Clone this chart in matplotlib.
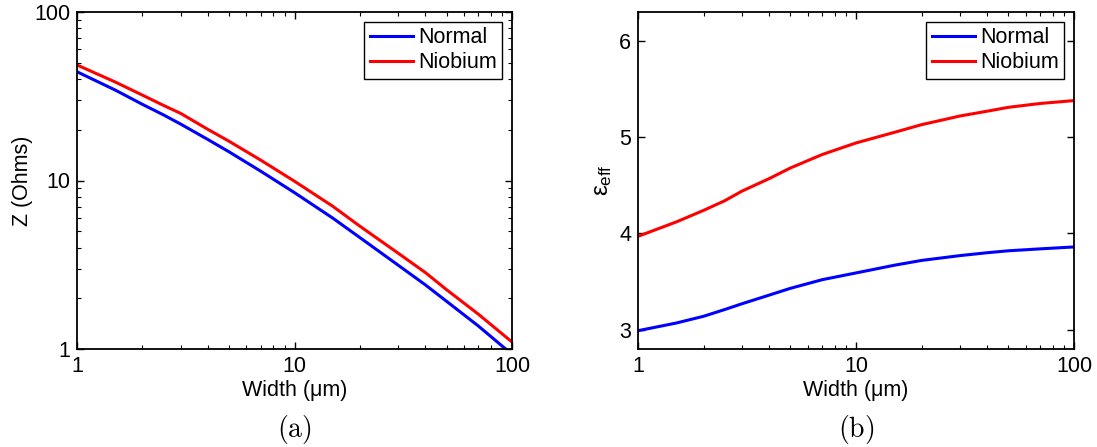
import numpy as np
import matplotlib.pyplot as plt

plt.rcParams['font.family'] = ['Liberation Sans', 'DejaVu Sans']
plt.rcParams['mathtext.fontset'] = 'custom'
plt.rcParams['mathtext.rm'] = 'Liberation Sans'
plt.rcParams['mathtext.it'] = 'Liberation Sans'

# DATA
width = [1, 1.5, 2, 2.5, 3, 4, 5, 7, 10, 15, 20, 30, 40, 50, 70, 100]

z_normal = [44.2, 34.4, 28.3, 24.5, 21.6, 17.5, 14.8, 11.35, 8.47,
            5.98, 4.58, 3.14, 2.40, 1.92, 1.37, 0.93]
z_niobium = [48.5, 38.4, 32.1, 27.9, 25.0, 20.1, 17.1, 13.2, 9.9,
             7.03, 5.35, 3.70, 2.84, 2.25, 1.61, 1.10]

eps_normal = [2.99, 3.07, 3.14, 3.21, 3.27, 3.36, 3.43, 3.52, 3.59,
              3.67, 3.72, 3.77, 3.80, 3.82, 3.84, 3.86]
eps_niobium = [3.97, 4.12, 4.24, 4.34, 4.44, 4.57, 4.68, 4.82, 4.94,
               5.05, 5.13, 5.22, 5.27, 5.31, 5.35, 5.38]

series_names = ['Normal', 'Niobium']
series_colors = ['#0000ff', '#ff0000']
panel_tags = ['(a)', '(b)']

FS = 15.5

fig = plt.figure(figsize=(10.97, 4.47), dpi=100)
ax1 = fig.add_axes([77/1097, 98/447, 435/1097, 337/447])
ax2 = fig.add_axes([638/1097, 98/447, 436/1097, 337/447])

#LEFT PANEL
for ys, name, c in zip([z_normal, z_niobium], series_names, series_colors):
    ax1.plot(width, ys, color=c, lw=2.2, label=name)
ax1.set_xscale('log')
ax1.set_yscale('log')
ax1.set_xlim(1, 100)
ax1.set_ylim(1, 100)
ax1.set_xticks([1, 10, 100])
ax1.set_xticklabels(['1', '10', '100'])
ax1.set_yticks([1, 10, 100])
ax1.set_yticklabels(['1', '10', '100'])
ax1.set_ylabel('Z (Ohms)', fontsize=FS, labelpad=1)

#RIGHT PANEL
for ys, name, c in zip([eps_normal, eps_niobium], series_names, series_colors):
    ax2.plot(width, ys, color=c, lw=2.2, label=name)
ax2.set_xscale('log')
ax2.set_xlim(1, 100)
ax2.set_ylim(2.8, 6.3)
ax2.set_xticks([1, 10, 100])
ax2.set_xticklabels(['1', '10', '100'])
ax2.set_yticks([3, 4, 5, 6])
ax2.set_ylabel(r'$\varepsilon_{\mathrm{eff}}$', fontsize=FS + 2, labelpad=4)

for ax, tag in zip([ax1, ax2], panel_tags):
    ax.set_xlabel(u'Width (\u03bcm)', fontsize=FS, labelpad=2)
    ax.tick_params(which='both', direction='in', top=True, right=True,
                   labelsize=FS, pad=5)
    ax.tick_params(which='major', length=5, width=1)
    ax.tick_params(which='minor', length=3, width=0.8)
    for s in ax.spines.values():
        s.set_linewidth(1.3)
    leg = ax.legend(loc='upper right', fontsize=FS, fancybox=False,
                    framealpha=1, edgecolor='black', handlelength=2.0,
                    handletextpad=0.25, borderpad=0.25, labelspacing=0.2,
                    borderaxespad=0.45)
    leg.get_frame().set_linewidth(1.0)
    pos = ax.get_position()
    fig.text(pos.x0 + pos.width / 2, 18/447, r'$\mathrm{' + tag + '}$',
             ha='center', va='center', fontsize=20,
             math_fontfamily='cm')

fig.savefig('out.png', dpi=100)
